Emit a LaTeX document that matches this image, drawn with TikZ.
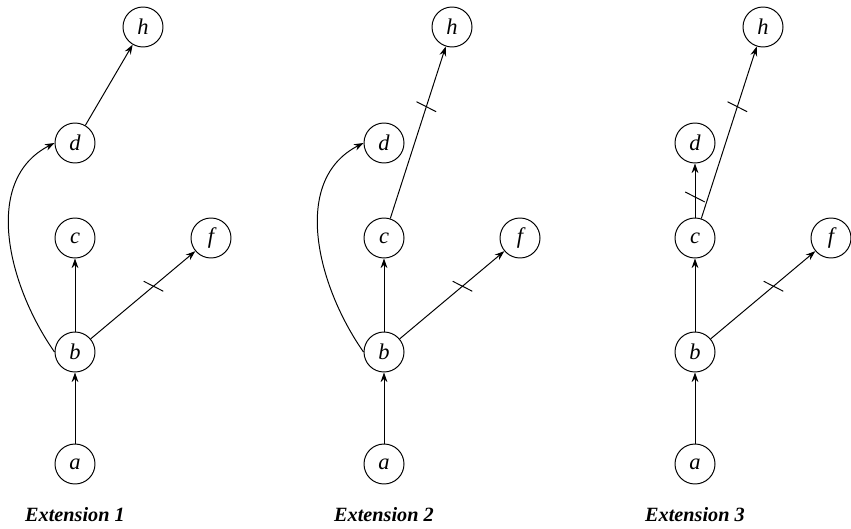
\documentclass[tikz,border=0pt]{standalone}
\usepackage{fontspec}
\setmainfont{Liberation Serif}
\usetikzlibrary{arrows.meta,positioning}

\tikzset{
  vtx/.style={draw, circle, minimum size=1cm, inner sep=0pt, line width=0.7pt, font=\fontsize{16}{18}\selectfont\itshape},
  edge/.style={-{Stealth[length=2.4mm,width=1.7mm]}, line width=0.7pt},
  cut/.style={draw, rectangle, inner sep=0pt, minimum height=0pt, minimum width=0.55cm, rotate=-27, line width=0.7pt},
  caption/.style={font=\Large\bfseries\itshape}
}

\begin{document}
\begin{tikzpicture}
    \useasboundingbox (0,0) rectangle (21.275,-13.225);

    % the three panels share the same vertex layout
    \foreach \k/\dx in {1/0, 2/7.725, 3/15.5} {
      \begin{scope}[xshift=\dx cm]
        \node[vtx] (a\k) at (1.875,-11.6) {a};
        \node[vtx] (b\k) at (1.875,-8.8) {b};
        \node[vtx] (c\k) at (1.875,-5.95) {c};
        \node[vtx] (f\k) at (5.275,-5.95) {f};
        \node[vtx] (d\k) at (1.875,-3.575) {d};
        \node[vtx] (h\k) at (3.575,-0.675) {h};
        \node[caption, below=0.45cm of a\k] (cap\k) {Extension \k};

        \draw[edge] (a\k) -- (b\k);
        \draw[edge] (b\k) -- (c\k);
        \draw[edge] (b\k) -- node[cut, pos=0.6] {} (f\k);
      \end{scope}
    }

    % Extension 1
    \draw[edge] (b1.west) to[out=125, in=207] (d1.west);
    \draw[edge] (d1) -- (h1);

    % Extension 2
    \draw[edge] (b2.west) to[out=125, in=207] (d2.west);
    \draw[edge] (c2) -- node[cut, pos=0.65] {} (h2);

    % Extension 3
    \draw[edge] (c3) -- node[cut, pos=0.38] {} (d3);
    \draw[edge] (c3) -- node[cut, pos=0.65] {} (h3);
\end{tikzpicture}
\end{document}
